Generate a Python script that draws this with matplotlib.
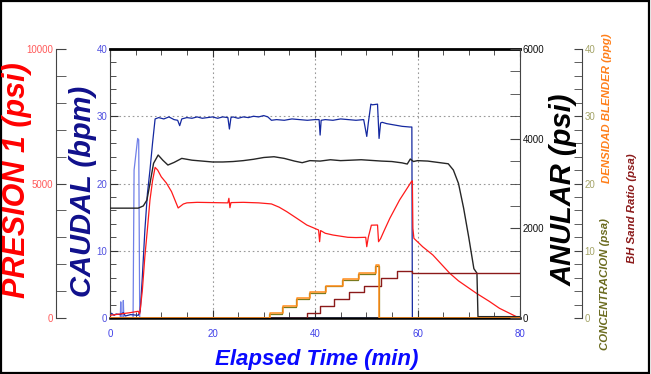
import matplotlib.pyplot as plt
from matplotlib import font_manager
from matplotlib.patches import Rectangle
from matplotlib.ticker import MultipleLocator

# ---- data ----
# CAUDAL (bpm) - main pump rate
caudal_t = [0, 0.3, 0.8, 1.2, 2.0, 2.6, 3.0, 4.0, 5.5, 5.9, 6.3, 6.8, 7.3, 7.8, 8.3, 8.8,
            9.5, 10.5, 11.5, 12.5, 13.2, 13.6, 14.0, 15, 16, 17, 18, 19, 20, 21, 22,
            23.0, 23.3, 23.6, 24, 25, 26, 27, 28, 29, 30, 30.8, 31.5, 32.5, 34, 35.5,
            37, 38.5, 40, 40.8, 41.0, 41.2, 42, 43.5, 45, 46.5, 48, 49.5, 50.1, 50.4,
            50.9, 51.2, 52.2, 52.5, 52.8, 53.1, 54, 55.5, 57, 58.5, 58.9, 59.0, 80]
caudal_v = [0.3, 0.7, 0.4, 0.6, 0.5, 0.8, 0.3, 0.5, 0.4, 1.0, 6, 13, 18.5, 22, 26, 29.6,
            29.8, 29.6, 29.9, 29.5, 29.4, 28.6, 29.6, 29.8, 29.7, 29.9, 29.7, 29.8, 29.9, 29.7, 29.9,
            29.8, 28.1, 29.8, 29.9, 29.7, 29.9, 29.8, 30.0, 29.9, 30.1, 29.9, 29.4, 29.5, 29.4, 29.6,
            29.5, 29.4, 29.5, 29.5, 27.2, 29.4, 29.5, 29.4, 29.6, 29.5, 29.4, 29.5, 27.0, 29.0,
            31.8, 31.7, 31.8, 26.7, 29.0, 29.1, 28.9, 28.7, 28.5, 28.4, 28.4, 0, 0]
# second (light blue) rate trace
caudal2_t = [0, 2.0, 2.1, 2.2, 2.5, 2.6, 2.7, 4.5, 4.7, 5.4, 5.6, 5.8, 80]
caudal2_v = [0, 0, 2.4, 0, 0, 2.6, 0, 0, 22, 26.7, 26.5, 0, 0]

# ANULAR (psi)
anular_t = [0, 5.5, 6.5, 7.2, 7.8, 8.5, 9.4, 10.3, 11.3, 12.5, 14, 16, 18, 20, 22, 24, 26,
            28, 30, 32, 34, 36, 37.5, 39, 41, 43, 45, 47, 49, 51, 53, 55, 57, 58, 58.6,
            59.2, 60, 62, 64, 66, 67, 68, 69, 70, 71, 71.6, 71.8, 80]
anular_v = [2450, 2450, 2500, 2630, 3000, 3450, 3635, 3520, 3412, 3470, 3560, 3520, 3500,
            3480, 3480, 3490, 3510, 3540, 3580, 3597, 3560, 3500, 3464, 3510, 3500, 3530,
            3510, 3520, 3530, 3515, 3500, 3490, 3460, 3434, 3546, 3490, 3510, 3500, 3470,
            3440, 3300, 3000, 2450, 1800, 1100, 1000, 30, 30]

# PRESION 1 (psi)
presion_t = [0, 2, 4, 5.5, 5.8, 6.3, 6.8, 7.3, 7.8, 8.3, 8.8, 9.3, 10, 11, 12, 13.3, 14.3,
             15, 17, 20, 23, 23.2, 23.4, 23.6, 26, 29, 31.5, 33, 34.5, 36.5, 38.4, 40.7,
             40.9, 41.1, 42, 43.5, 46.4, 48, 49.9, 50.1, 50.4, 51.0, 52.2, 52.4, 52.8, 53.5,
             54.6, 56.5, 58.8, 59.0, 59.1, 59.3, 61, 63, 66.3, 68, 71.5, 74, 76, 79.3, 80]
presion_v = [100, 150, 200, 250, 150, 1000, 2280, 3300, 4390, 5100, 5600, 5500, 5250, 5018,
             4700, 4090, 4237, 4280, 4300, 4290, 4280, 4450, 4100, 4290, 4300, 4280, 4240,
             4120, 3952, 3700, 3457, 3271, 2836, 3250, 3150, 3085, 3000, 2990, 3000, 2650,
             3000, 3450, 3457, 2836, 2950, 3250, 3706, 4386, 5066, 5100, 3334, 2962, 2650,
             2342, 1661, 1380, 918, 620, 360, 50, 0]

# DENSIDAD BLENDER (ppg), CONCENTRACION (psa), BH Sand Ratio (psa) - step traces
dens_t = [0, 31.2, 33.8, 36.4, 39.0, 42.2, 45.4, 48.5, 51.9, 52.5, 80]
dens_v = [0, 0.7, 1.8, 2.9, 3.8, 4.8, 5.75, 6.7, 7.9, 0, 0]
conc_t = [0, 31.0, 33.6, 36.2, 38.8, 42.0, 45.2, 48.3, 51.7, 52.5, 80]
conc_v = [0, 0.6, 1.7, 2.8, 3.7, 4.7, 5.65, 6.6, 7.7, 0, 0]
bh_t = [0, 38.4, 41.0, 43.8, 46.6, 49.5, 52.8, 56.0, 59.0, 80]
bh_v = [0, 0.8, 1.8, 2.8, 3.8, 4.75, 5.9, 7.0, 6.65, 6.65]

# ---- fonts ----
names = {f.name for f in font_manager.fontManager.ttflist}
narrow = 'Liberation Sans Narrow' if 'Liberation Sans Narrow' in names else 'Liberation Sans'
plt.rcParams['font.family'] = ['Liberation Sans', 'DejaVu Sans']

fig = plt.figure(figsize=(6.51, 3.74), dpi=100)
ax = fig.add_axes([110 / 651, 1 - 318 / 374, 410 / 651, 269 / 374])

# main axis: CAUDAL + time
ax.plot(caudal2_t, caudal2_v, color='#7080e8', lw=0.9)
ax.plot(caudal_t, caudal_v, color='#1428a0', lw=0.9)
ax.set_xlim(0, 80)
ax.set_ylim(0, 40)
ax.xaxis.set_major_locator(MultipleLocator(20))
ax.xaxis.set_minor_locator(MultipleLocator(5))
ax.yaxis.set_major_locator(MultipleLocator(10))
ax.yaxis.set_minor_locator(MultipleLocator(2))
ax.grid(True, which='major', color='#999999', ls=(0, (1.5, 2.5)), lw=0.8)
ax.tick_params(which='both', direction='in', top=True, right=False, color='#333333')
ax.tick_params(which='major', length=6)
ax.tick_params(which='minor', length=4)
ax.tick_params(axis='y', labelcolor='#5050e0', labelsize=7, pad=2)
ax.tick_params(axis='x', labelcolor='#4040e8', labelsize=7, pad=8)
for lab in ax.get_xticklabels() + ax.get_yticklabels():
    lab.set_fontfamily(narrow)
ax.spines['top'].set_linewidth(2)
ax.spines['bottom'].set_linewidth(1.8)
ax.spines['left'].set_color('#444444')
ax.spines['right'].set_visible(False)

# PRESION axis on the far left
ax_p = ax.twinx()
ax_p.plot(presion_t, presion_v, color='#ff1a1a', lw=0.9)
ax_p.set_ylim(0, 10000)
ax_p.yaxis.set_ticks_position('left')
ax_p.spines['left'].set_position(('axes', -0.132))
ax_p.spines['left'].set_visible(True)
ax_p.spines['left'].set_color('#444444')
for s in ['right', 'top', 'bottom']:
    ax_p.spines[s].set_visible(False)
ax_p.set_yticks([0, 5000, 10000])
ax_p.yaxis.set_minor_locator(MultipleLocator(1000))
ax_p.tick_params(which='both', direction='in', color='#444444', length=7)
ax_p.tick_params(axis='y', labelcolor='#ff5a5a', labelsize=7, pad=2)
for lab in ax_p.get_yticklabels():
    lab.set_fontfamily(narrow)

# ANULAR axis on the right
ax_a = ax.twinx()
ax_a.plot(anular_t, anular_v, color='#262626', lw=1.0)
ax_a.set_ylim(0, 6000)
ax_a.set_yticks([0, 2000, 4000, 6000])
ax_a.yaxis.set_minor_locator(MultipleLocator(500))
for s in ['left', 'top', 'bottom']:
    ax_a.spines[s].set_visible(False)
ax_a.spines['right'].set_color('#444444')
ax_a.tick_params(which='both', direction='in', color='#444444', length=7)
ax_a.tick_params(axis='y', labelcolor='#111111', labelsize=7, pad=2)
for lab in ax_a.get_yticklabels():
    lab.set_fontfamily(narrow)

# CONCENTRACION / DENSIDAD / BH Sand Ratio axis, far right
ax_c = ax.twinx()
ax_c.plot(bh_t, bh_v, color='#8b1a1a', lw=1.0, drawstyle='steps-post')
ax_c.plot(conc_t, conc_v, color='#7a7a1e', lw=0.9, drawstyle='steps-post')
ax_c.plot(dens_t, dens_v, color='#ff8c1a', lw=1.1, drawstyle='steps-post')
ax_c.set_ylim(0, 40)
ax_c.spines['right'].set_position(('axes', 1.151))
ax_c.spines['right'].set_color('#444444')
for s in ['left', 'top', 'bottom']:
    ax_c.spines[s].set_visible(False)
ax_c.yaxis.set_major_locator(MultipleLocator(10))
ax_c.yaxis.set_minor_locator(MultipleLocator(2))
ax_c.tick_params(which='both', direction='in', color='#444444', length=6)
ax_c.tick_params(axis='y', labelcolor='#a4a468', labelsize=7, pad=2)
for lab in ax_c.get_yticklabels():
    lab.set_fontfamily(narrow)

# axis titles
big = dict(fontweight='bold', fontstyle='italic', rotation=90, ha='center', va='center')
fig.text(0.026, 0.519, 'PRESION 1 (psi)', color='#ff0000', fontsize=22, **big)
fig.text(0.128, 0.487, 'CAUDAL (bpm)', color='#10108c', fontsize=21, **big)
fig.text(0.865, 0.492, 'ANULAR (psi)', color='#000000', fontsize=21, **big)
fig.text(0.932, 0.711, 'DENSIDAD BLENDER (ppg)', color='#ff7f1a', fontsize=8.2, **big)
fig.text(0.929, 0.241, 'CONCENTRACION (psa)', color='#6b6b1f', fontsize=8.2, **big)
fig.text(0.971, 0.444, 'BH Sand Ratio (psa)', color='#8b1a1a', fontsize=8.2, **big)
fig.text(0.486, 0.040, 'Elapsed Time (min)', color='#0a0aff', fontsize=16,
         fontweight='bold', fontstyle='italic', ha='center', va='center', family=narrow)

# outer frame
fig.patches.append(Rectangle((0.002, 0.004), 0.995, 0.992, transform=fig.transFigure,
                             fill=False, edgecolor='black', lw=1.6))

fig.savefig('out.png', dpi=100)
